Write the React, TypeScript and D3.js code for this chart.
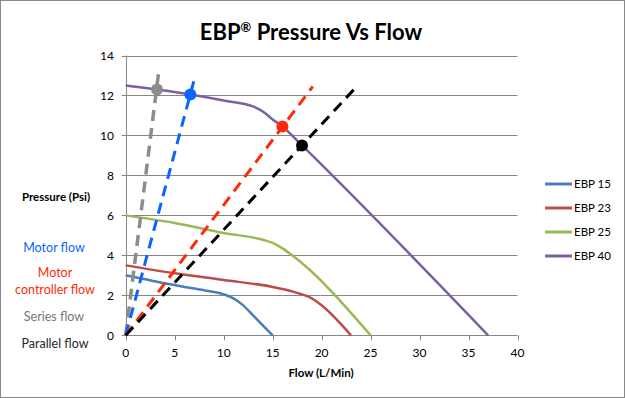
import React from "react";
import * as d3 from "d3";

// ---- data ----
const xTicks = [0, 5, 10, 15, 20, 25, 30, 35, 40];
const yTicks = [0, 2, 4, 6, 8, 10, 12, 14];

const ebp15: [number, number][] = [[0, 3], [2, 2.8], [4, 2.6], [6, 2.42], [8, 2.25], [10, 2.05], [11, 1.85], [12, 1.5], [13, 1.0], [14, 0.5], [15, 0]];
const ebp23: [number, number][] = [[0, 3.5], [5, 3.1], [10, 2.77], [15, 2.42], [17, 2.2], [18, 2.05], [19, 1.85], [20, 1.5], [23, 0]];
const ebp25: [number, number][] = [[0, 6], [5, 5.62], [10, 5.12], [14, 4.78], [15, 4.62], [16, 4.35], [17, 4.0], [25, 0]];
const ebp40: [number, number][] = [[0, 12.5], [3.2, 12.3], [6.6, 12.05], [10, 11.75], [13, 11.45], [14, 11.2], [15, 10.8], [16, 10.45], [18, 9.5], [37, 0]];

const seriesNames = ["EBP 15", "EBP 23", "EBP 25", "EBP 40"];
const seriesData = [ebp15, ebp23, ebp25, ebp40];
const seriesColors = ["#4a7ebb", "#be4b48", "#98b954", "#7d60a0"];

// dashed flow lines: end point (from origin) and operating point
const flowNames = ["Series flow", "Motor flow", "Motor controller flow", "Parallel flow"];
const flowEnds: [number, number][] = [[3.35, 13.1], [7.0, 12.8], [19.1, 12.45], [23.3, 12.3]];
const flowPoints: [number, number][] = [[3.2, 12.3], [6.6, 12.05], [16.0, 10.45], [18.0, 9.5]];
const flowColors = ["#8c8c8c", "#0a64ff", "#ff2a0a", "#000000"];

export default function App() {
  const W = 625, H = 398;
  const x = d3.scaleLinear().domain([0, 40]).range([125.7, 517.5]);
  const y = d3.scaleLinear().domain([0, 14]).range([335.3, 55.5]);
  const line = d3.line<[number, number]>().x(d => x(d[0])).y(d => y(d[1])).curve(d3.curveMonotoneX);
  const straight = d3.line<[number, number]>().x(d => x(d[0])).y(d => y(d[1]));
  const font = "Lato, 'Open Sans', sans-serif";

  return (
    <div style={{ position: "absolute", left: 0, top: 0 }}>
      <svg width={W} height={H} style={{ display: "block" }} fontFamily={font}>
        <rect x={0.5} y={0.5} width={W - 1} height={H - 1} fill="#fff" stroke="#898989" />
        <text x={311} y={40} textAnchor="middle" fontSize={22} fontWeight="bold" fill="#000">
          EBP<tspan fontSize={13} dy={-8}>®</tspan><tspan dy={8}> Pressure Vs Flow</tspan>
        </text>

        {/* gridlines */}
        {yTicks.filter(t => t > 0).map(t => (
          <line key={t} x1={x(0) - 4} x2={x(40)} y1={Math.round(y(t)) + 0.5} y2={Math.round(y(t)) + 0.5} stroke="#868686" strokeWidth={1} />
        ))}
        {/* axes */}
        <line x1={Math.round(x(0)) + 0.5} x2={Math.round(x(0)) + 0.5} y1={y(14)} y2={y(0)} stroke="#868686" />
        <line x1={x(0) - 4} x2={x(40)} y1={Math.round(y(0)) + 0.5} y2={Math.round(y(0)) + 0.5} stroke="#868686" />
        {xTicks.map(t => (
          <line key={t} x1={Math.round(x(t)) + 0.5} x2={Math.round(x(t)) + 0.5} y1={y(0)} y2={y(0) + 5} stroke="#868686" />
        ))}
        {yTicks.map(t => (
          <text key={t} x={114} y={y(t) + 4.5} textAnchor="end" fontSize={12} fill="#000">{t}</text>
        ))}
        {xTicks.map(t => (
          <text key={t} x={x(t)} y={357} textAnchor="middle" fontSize={12} fill="#000">{t}</text>
        ))}
        <text x={321} y={377} textAnchor="middle" fontSize={11.5} fontWeight="bold" fill="#000">Flow (L/Min)</text>

        {/* left labels */}
        <text x={56} y={201} textAnchor="middle" fontSize={11.5} fontWeight="bold" fill="#000">Pressure (Psi)</text>
        <text x={54} y={252} textAnchor="middle" fontSize={12.5} fill={flowColors[1]}>{flowNames[1]}</text>
        <text x={55} y={277} textAnchor="middle" fontSize={12.5} fill={flowColors[2]}>Motor</text>
        <text x={55} y={294} textAnchor="middle" fontSize={12.5} fill={flowColors[2]}>controller flow</text>
        <text x={54} y={321} textAnchor="middle" fontSize={12.5} fill="#777777">{flowNames[0]}</text>
        <text x={55} y={348} textAnchor="middle" fontSize={12.5} fill="#262626">{flowNames[3]}</text>

        {/* pump curves */}
        {seriesData.map((d, i) => (
          <path key={i} d={line(d) || ""} fill="none" stroke={seriesColors[i]} strokeWidth={2.5} />
        ))}

        {/* flow dashed lines */}
        {flowEnds.map((e, i) => (
          <path key={i} d={straight([[0, 0], e]) || ""} fill="none" stroke={flowColors[i]} strokeWidth={i === 0 ? 3.5 : 3} strokeDasharray="11,7" />
        ))}
        {flowPoints.map((p, i) => (
          <circle key={i} cx={x(p[0])} cy={y(p[1])} r={6} fill={flowColors[i]} />
        ))}

        {/* legend */}
        {seriesNames.map((n, i) => {
          const ly = 184 + i * 24;
          return (
            <g key={n}>
              <line x1={545} x2={572} y1={ly} y2={ly} stroke={seriesColors[i]} strokeWidth={3} />
              <text x={574} y={ly + 4} fontSize={11.5} fill="#000">{n}</text>
            </g>
          );
        })}
      </svg>
    </div>
  );
}
